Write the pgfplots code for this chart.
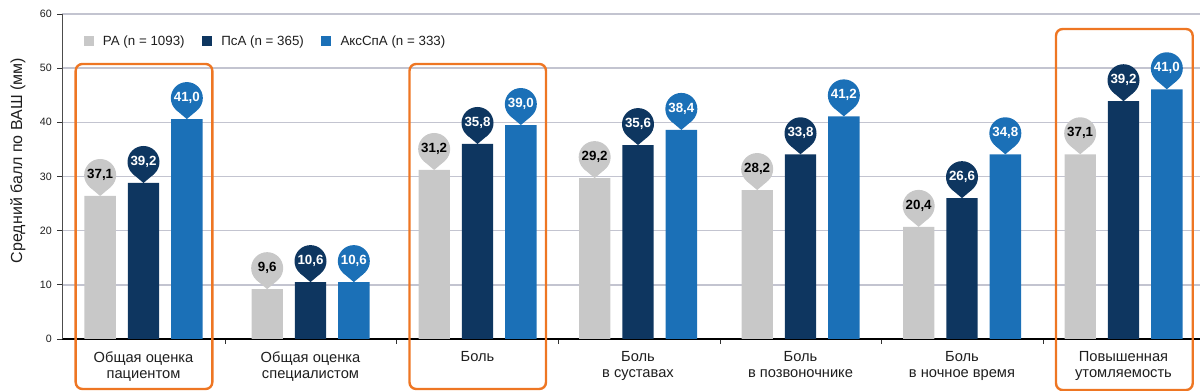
\documentclass[border=0pt]{standalone}
\usepackage{fontspec}
\setmainfont{Liberation Sans}
\usepackage{pgfplots}
\usepackage{pgfplotstable}
\pgfplotsset{compat=1.18}

\definecolor{cgray}{RGB}{200,200,200}
\definecolor{cnavy}{RGB}{14,54,96}
\definecolor{cblue}{RGB}{27,112,183}
\definecolor{corange}{RGB}{238,118,35}
\definecolor{cgrid}{RGB}{195,196,208}
\definecolor{ctext}{RGB}{30,30,30}

\pgfplotstableread{
x y lab
143.5 26.4 37,1
310.5 9.2 9,6
477.5 31.2 31,2
638 29.7 29,2
800.5 27.5 28,2
962 20.7 20,4
1123.5 34.1 37,1
}\datara
\pgfplotstableread{
x y lab
143.5 28.8 39,2
310.5 10.5 10,6
477.5 36.0 35,8
638 35.8 35,6
800.5 34.1 33,8
962 26.0 26,6
1123.5 43.9 39,2
}\datapsa
\pgfplotstableread{
x y lab
143.5 40.6 41,0
310.5 10.5 10,6
477.5 39.5 39,0
638 38.6 38,4
800.5 41.1 41,2
962 34.1 34,8
1123.5 46.1 41,0
}\dataax

\tikzset{
  pinnode/.style n args={2}{circle, fill=#1, text=#2, inner sep=0pt, outer sep=0pt,
    minimum size=24pt, font=\bfseries\fontsize{10}{12}\selectfont, anchor=south, yshift=3.75pt,
    append after command={\pgfextra{\fill[#1] (\tikzlastnode.229.6) -- ([yshift=-3.75pt]\tikzlastnode.south) -- (\tikzlastnode.310.4) -- cycle;}}}
}

\begin{document}
\begin{tikzpicture}
\begin{axis}[
  at={(0pt,0pt)}, anchor=south west,
  scale only axis,
  width=853.5pt, height=243.75pt,
  xmin=62, xmax=1200, ymin=0, ymax=60,
  clip=false,
  axis x line*=bottom, axis y line*=left,
  x axis line style={black, line width=1pt},
  y axis line style={draw=black!70, line width=0.6pt},
  ybar=9pt, bar width=23.5pt,
  ymajorgrids, grid style={cgrid, line width=1.1pt},
  ytick={0,10,...,60},
  tick align=outside,
  major tick length=3.5pt,
  tick style={black!80, line width=0.6pt},
  /pgf/number format/assume math mode=true,
  yticklabel style={font=\fontsize{8}{10}\selectfont, text=ctext, inner sep=0pt, xshift=-4pt},
  xtick={225.5,396.7,558,720,881,1043.3},
  xticklabels={,,,,,},
  extra x ticks={143.5,310.5,477.5,638,800.5,962,1123.5},
  extra x tick labels={Общая оценка\\пациентом, Общая оценка\\специалистом, Боль, Боль\\в суставах, Боль\\в позвоночнике, Боль\\в ночное время, Повышенная\\утомляемость},
  extra x tick style={major tick length=0pt, grid=none},
  xticklabel style={font=\fontsize{11}{12}\selectfont, text=ctext, align=center, anchor=north, inner sep=0pt, yshift=-9pt},
  ylabel={Средний балл по ВАШ (мм)},
  ylabel style={at={(axis description cs:-0.0387,0.549)}, anchor=center, rotate=0, font=\fontsize{12}{14}\selectfont, text=ctext},
  point meta=explicit symbolic,
  nodes near coords,
  legend columns=-1,
  legend style={at={(axis description cs:0.0187,0.916)}, anchor=west, draw=none, fill=none,
    font=\fontsize{10}{12}\selectfont, text=ctext, inner sep=0pt,
    /tikz/every odd column/.append style={column sep=5pt},
    /tikz/every even column/.append style={column sep=11pt}},
  legend image code/.code={\fill[#1] (0pt,-3.75pt) rectangle (7.5pt,3.75pt);},
]
\addplot[fill=cgray, draw=none, every node near coord/.append style={pinnode={cgray}{black}}] table[x=x, y=y, meta=lab] {\datara};
\addlegendentry{РА (n = 1093)}
\addplot[fill=cnavy, draw=none, every node near coord/.append style={pinnode={cnavy}{white}}] table[x=x, y=y, meta=lab] {\datapsa};
\addlegendentry{ПсА (n = 365)}
\addplot[fill=cblue, draw=none, every node near coord/.append style={pinnode={cblue}{white}}] table[x=x, y=y, meta=lab] {\dataax};
\addlegendentry{АксСпА (n = 333)}

\draw[corange, line width=1.8pt, rounded corners=5pt] (axis cs:75.7,50.77) rectangle (axis cs:212.3,-9.23);
\draw[corange, line width=1.8pt, rounded corners=5pt] (axis cs:409.5,50.77) rectangle (axis cs:546,-9.23);
\draw[corange, line width=1.8pt, rounded corners=5pt] (axis cs:1056,57.23) rectangle (axis cs:1192.7,-9.42);
\end{axis}
\pgfresetboundingbox
\useasboundingbox (-46.5pt,-39pt) rectangle (853.5pt,254.25pt);
\end{tikzpicture}
\end{document}
